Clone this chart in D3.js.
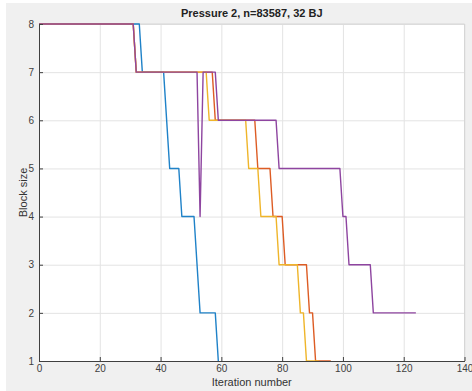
<!DOCTYPE html>
<html>
<head>
<meta charset="utf-8">
<script src="https://cdn.jsdelivr.net/npm/d3@7"></script>
<style>
  body { margin: 0; background: #fff; }
  text { font-family: "Liberation Sans", Arial, sans-serif; }
</style>
</head>
<body>
<script>
// block size per iteration at the change points
const blueIter = [0, 33, 34, 41, 43, 46, 47, 51, 53, 58, 59];
const blueSize = [8, 8, 7, 7, 5, 5, 4, 4, 2, 2, 1];

const orangeIter = [0, 31, 32, 57, 58, 71, 72, 76, 77, 80, 81, 88, 89, 90, 91, 96];
const orangeSize = [8, 8, 7, 7, 6, 6, 5, 5, 4, 4, 3, 3, 2, 2, 1, 1];

const yellowIter = [0, 31, 32, 55, 56, 68, 69, 72, 73, 78, 79, 85, 86, 87, 88, 92];
const yellowSize = [8, 8, 7, 7, 6, 6, 5, 5, 4, 4, 3, 3, 2, 2, 1, 1];

const purpleIter = [0, 31, 32, 52, 53, 54, 58, 59, 78, 79, 99, 100, 101, 102, 109, 110, 124];
const purpleSize = [8, 8, 7, 7, 4, 7, 7, 6, 6, 5, 5, 4, 4, 3, 3, 2, 2];

const xTicks = [0, 20, 40, 60, 80, 100, 120, 140];
const yTicks = [1, 2, 3, 4, 5, 6, 7, 8];

const titleText = "Pressure 2, n=83587, 32 BJ";
const xLabel = "Iteration number";
const yLabel = "Block size";

const series = [
    { color: "#1f82c8", iter: blueIter, size: blueSize },
    { color: "#dd5c24", iter: orangeIter, size: orangeSize },
    { color: "#efb52a", iter: yellowIter, size: yellowSize },
    { color: "#8e45a0", iter: purpleIter, size: purpleSize }
];

const W = 472, H = 391;
const pLeft = 39, pRight = 464.5, pTop = 24, pBottom = 361;

const svg = d3.select("body").append("svg")
    .attr("width", W)
    .attr("height", H);

// figure background
svg.append("rect")
    .attr("x", 6).attr("y", 3)
    .attr("width", W - 6).attr("height", H - 3)
    .attr("fill", "#f0f0f0");

svg.append("rect")
    .attr("x", pLeft).attr("y", pTop)
    .attr("width", pRight - pLeft).attr("height", pBottom - pTop)
    .attr("fill", "#fff");

const xScale = d3.scaleLinear([0, 140], [pLeft, pRight]);
const yScale = d3.scaleLinear([1, 8], [pBottom, pTop]);

// grid
svg.append("g")
    .attr("transform", `translate(0, ${pBottom})`)
    .call(d3.axisBottom(xScale).tickValues(xTicks).tickSize(-(pBottom - pTop)).tickFormat(""))
    .call(g => g.select(".domain").remove())
    .call(g => g.selectAll("line").attr("stroke", "#e3e3e3"));

svg.append("g")
    .attr("transform", `translate(${pLeft}, 0)`)
    .call(d3.axisLeft(yScale).tickValues(yTicks).tickSize(-(pRight - pLeft)).tickFormat(""))
    .call(g => g.select(".domain").remove())
    .call(g => g.selectAll("line").attr("stroke", "#e3e3e3"));

// box top / right
svg.append("path")
    .attr("d", `M${pLeft},${pTop}H${pRight}V${pBottom}`)
    .attr("fill", "none")
    .attr("stroke", "#d6d6d6");

// lines
const dMaker = d3.line()
    .x(d => xScale(d[0]))
    .y(d => yScale(d[1]));

svg.append("g")
    .selectAll("path")
    .data(series)
    .enter()
    .append("path")
    .attr("fill", "none")
    .attr("stroke", d => d.color)
    .attr("stroke-width", 1.4)
    .attr("stroke-linejoin", "round")
    .attr("d", d => dMaker(d.iter.map((it, i) => [it, d.size[i]])));

// axes
const xAxis = svg.append("g")
    .attr("transform", `translate(0, ${pBottom})`)
    .call(d3.axisBottom(xScale).tickValues(xTicks).tickFormat(d3.format("d"))
        .tickSizeInner(-4).tickSizeOuter(0).tickPadding(4));

const yAxis = svg.append("g")
    .attr("transform", `translate(${pLeft}, 0)`)
    .call(d3.axisLeft(yScale).tickValues(yTicks).tickFormat(d3.format("d"))
        .tickSizeInner(-4).tickSizeOuter(0).tickPadding(5));

[xAxis, yAxis].forEach(a => {
    a.select(".domain").attr("stroke", "#404040");
    a.selectAll("line").attr("stroke", "#404040");
    a.selectAll("text")
        .attr("fill", "#404040")
        .style("font-size", "10px")
        .style("font-family", "'Liberation Sans', Arial, sans-serif");
});

// titles
svg.append("text")
    .attr("x", (pLeft + pRight) / 2)
    .attr("y", 17)
    .attr("text-anchor", "middle")
    .attr("font-weight", "bold")
    .attr("font-size", "11px")
    .attr("fill", "#222")
    .text(titleText);

svg.append("text")
    .attr("x", (pLeft + pRight) / 2)
    .attr("y", 386)
    .attr("text-anchor", "middle")
    .attr("font-size", "11px")
    .attr("fill", "#333")
    .text(xLabel);

svg.append("text")
    .attr("transform", `translate(27, ${(pTop + pBottom) / 2}) rotate(-90)`)
    .attr("text-anchor", "middle")
    .attr("font-size", "11px")
    .attr("fill", "#333")
    .text(yLabel);
</script>
</body>
</html>
